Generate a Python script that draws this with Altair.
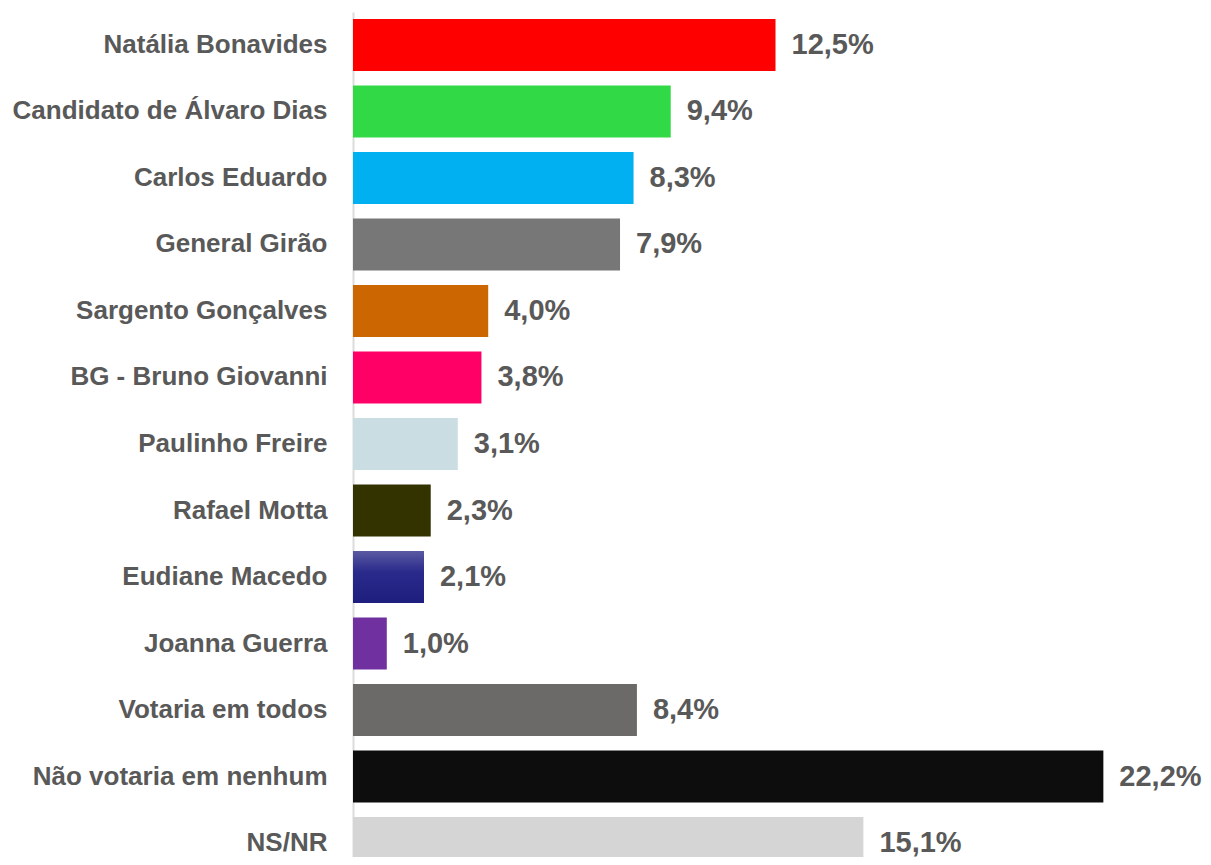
import altair as alt
import pandas as pd

categories = [
    "Natália Bonavides",
    "Candidato de Álvaro Dias",
    "Carlos Eduardo",
    "General Girão",
    "Sargento Gonçalves",
    "BG - Bruno Giovanni",
    "Paulinho Freire",
    "Rafael Motta",
    "Eudiane Macedo",
    "Joanna Guerra",
    "Votaria em todos",
    "Não votaria em nenhum",
    "NS/NR",
]
values = [12.5, 9.4, 8.3, 7.9, 4.0, 3.8, 3.1, 2.3, 2.1, 1.0, 8.4, 22.2, 15.1]
colors = [
    "#ff0000", "#30d945", "#00b0f0", "#777777", "#cc6600", "#ff0066",
    "#c9dde3", "#333300", "#262688", "#7030a0", "#6b6a69", "#0d0d0d", "#d5d5d5",
]
labels = [f"{v:.1f}%".replace(".", ",") for v in values]

df = pd.DataFrame({"cat": categories, "val": values, "color": colors, "label": labels})

FONT = "Liberation Sans"
TXT = "#595959"

y = alt.Y(
    "cat:N",
    sort=categories,
    scale=alt.Scale(range=[0, 864], paddingInner=0.218, paddingOuter=0.105),
    axis=alt.Axis(
        title=None, ticks=False, domainColor="#dcdcdc", domainWidth=2,
        labelFontSize=26, labelFontWeight="bold", labelColor=TXT, labelFont=FONT,
        labelPadding=26, labelLimit=500,
    ),
)
x = alt.X("val:Q", scale=alt.Scale(domain=[0, 25]), axis=None)

bars = alt.Chart(df).mark_bar(clip=True).encode(
    x=x, y=y, color=alt.Color("color:N", scale=None)
)

grad = alt.Chart(df).transform_filter(alt.datum.cat == "Eudiane Macedo").mark_bar(
    clip=True,
    color=alt.Gradient(
        gradient="linear",
        stops=[
            alt.GradientStop(color="#5a5aa2", offset=0),
            alt.GradientStop(color="#2a2a8c", offset=0.4),
            alt.GradientStop(color="#1e1e7e", offset=1),
        ],
        x1=0, x2=0, y1=0, y2=1,
    ),
).encode(x=x, y=y)

text = alt.Chart(df).mark_text(
    align="left", baseline="middle", dx=16, fontSize=29, fontWeight="bold",
    color=TXT, font=FONT,
).encode(x=x, y=y, text="label:N")

chart = (
    alt.layer(bars, grad, text)
    .properties(
        width=845,
        height=845,
        autosize=alt.AutoSizeParams(type="none"),
        padding={"left": 345, "top": 4, "right": 5, "bottom": 0},
    )
    .configure(background="white")
    .configure_view(stroke=None)
)

chart.save("out.html", embed_options={"renderer": "svg", "actions": False})
